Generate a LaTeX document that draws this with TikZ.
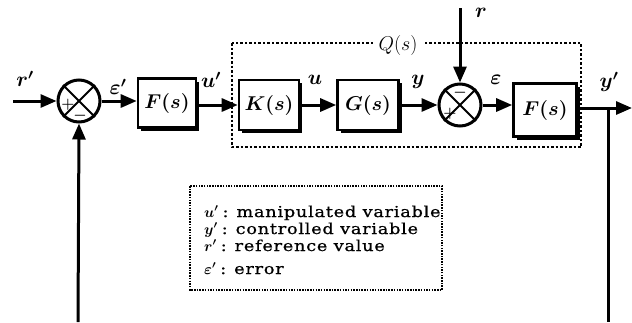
\documentclass[tikz,border=0pt]{standalone}
\usepackage{fix-cm}
\usepackage{fontspec}
\setmainfont{DejaVu Serif}
\newfontfamily\legfont[LetterSpace=5,FakeStretch=1.18,FakeBold=0.8]{DejaVu Serif}
\usetikzlibrary{arrows.meta,shadows}
\begin{document}
\begin{tikzpicture}[x=1pt,y=-1pt,
  sig/.style={line width=3pt,-{Triangle[length=16pt,width=13pt]}},
  wire/.style={line width=3pt},
  blk/.style={draw,line width=2.6pt,fill=white,inner sep=0pt,
    drop shadow={shadow xshift=3pt,shadow yshift=-3pt,fill=black,opacity=1},
    font=\fontsize{20}{22}\selectfont\boldmath},
  sumj/.style={draw,circle,line width=3pt,minimum size=42pt,inner sep=0pt,fill=white},
  xline/.style={line width=2pt},
  sgn/.style={inner sep=0pt,font=\fontsize{15}{16}\selectfont\boldmath},
  lbl/.style={inner sep=0pt,font=\fontsize{21}{23}\selectfont\boldmath},
  qlbl/.style={inner sep=0pt,font=\fontsize{20}{22}\selectfont\unboldmath},
  qbox/.style={line width=1.3pt,dash pattern=on 2.5pt off 2pt},
  legbox/.style={line width=1.2pt,dash pattern=on 1.5pt off 1.2pt},
  leg/.style={anchor=base west,inner sep=0pt,
    font=\fontsize{15}{18}\legfont\boldmath}
]
\useasboundingbox (0,0) rectangle (632,322);

% Q(s) dashed frame
\draw[qbox] (232,43) rectangle (581,147);
\node[qlbl,fill=white,inner xsep=6pt] (qlab) at (398,45) {$Q(s)$};

% junctions
\node[sumj] (s1) at (79,101) {};
\draw[xline] (s1.north west) -- (s1.south east) (s1.north east) -- (s1.south west);
\node[sgn] (s1p) at (68,105) {$+$};
\node[sgn] (s1m) at (80,116) {$-$};

\node[sumj] (s2) at (460,105) {};
\draw[xline] (s2.north west) -- (s2.south east) (s2.north east) -- (s2.south west);
\node[sgn] (s2m) at (460,93) {$-$};
\node[sgn] (s2p) at (450,114) {$+$};

% blocks
\node[blk,minimum width=58pt,minimum height=49pt] (b1) at (167,103) {$F(s)$};
\node[blk,minimum width=60pt,minimum height=50pt] (b2) at (269,105) {$K(s)$};
\node[blk,minimum width=61pt,minimum height=50pt] (b3) at (368,105) {$G(s)$};
\node[blk,minimum width=63pt,minimum height=53pt] (b4) at (545,110) {$F(s)$};

% coordinates
\coordinate (in) at (13,101);
\coordinate (fb) at (78,322);
\coordinate (rt) at (460,8);
\coordinate (out) at (632,108);
\coordinate (br) at (608,108);
\coordinate (brb) at (608,322);

% connectors
\draw[sig] (in) -- (s1.west);
\draw[sig] (fb) -- (s1.south);
\draw[sig] (s1.east) -- (s1.east -| b1.west);
\draw[sig] (b1.east |- b2.west) -- (b2.west);
\draw[sig] (b2.east) -- (b3.west);
\draw[sig] (b3.east) -- (s2.west);
\draw[sig] (rt) -- (s2.north);
\draw[sig] (s2.east) -- (s2.east -| b4.west);
\draw[sig] (b4.east |- out) -- (out);
\draw[wire] (br) -- (brb);

% signal labels
\node[lbl] (lr1) at (25,79) {$r'$};
\node[lbl] (le1) at (118,87) {$\varepsilon'$};
\node[lbl] (lu1) at (211,80) {$u'$};
\node[lbl] (lu) at (315,80) {$u$};
\node[lbl] (ly) at (418,82) {$y$};
\node[lbl] (lr) at (481,13) {$r$};
\node[lbl] (le) at (496,80) {$\varepsilon$};
\node[lbl] (ly1) at (609,82) {$y'$};

% legend
\draw[legbox] (190,186) rectangle (442,290);
\node[leg] (l1) at (204,217) {$u'$\hspace{4pt}:\hspace{8pt}manipulated variable};
\node[leg] (l2) at (204,234) {$y'$\hspace{4pt}:\hspace{8pt}controlled variable};
\node[leg] (l3) at (204,251) {$r'$\hspace{4pt}:\hspace{8pt}reference value};
\node[leg] (l4) at (204,274) {$\varepsilon'$\hspace{4pt}:\hspace{8pt}error};
\end{tikzpicture}
\end{document}
